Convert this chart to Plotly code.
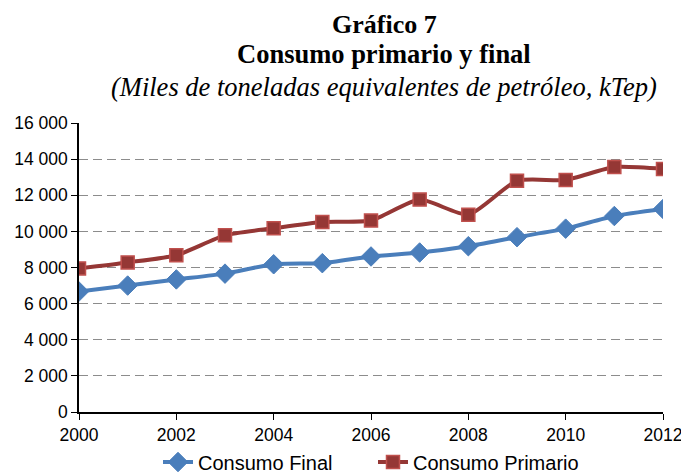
import plotly.graph_objects as go

# data (kTep)
years = list(range(2000, 2013))
consumo_final = [6670, 7000, 7340, 7660, 8180, 8240, 8610, 8830, 9180, 9680, 10150, 10850, 11240]
consumo_primario = [7950, 8280, 8680, 9780, 10170, 10520, 10600, 11760, 10920, 12800, 12850, 13560, 13460]

y_ticks = [0, 2000, 4000, 6000, 8000, 10000, 12000, 14000, 16000]
y_tick_labels = ["0", "2 000", "4 000", "6 000", "8 000", "10 000", "12 000", "14 000", "16 000"]
x_ticks = list(range(2000, 2013, 2))

fig = go.Figure()

fig.add_trace(go.Scatter(
    x=years, y=consumo_final, name="Consumo Final",
    mode="lines+markers", line=dict(color="#4A7EBB", width=4, shape="spline", smoothing=0.6),
    marker=dict(symbol="diamond", size=15, color="#4A7EBB", line=dict(color="#4A7EBB", width=1)),
))
fig.add_trace(go.Scatter(
    x=years, y=consumo_primario, name="Consumo Primario",
    mode="lines+markers", line=dict(color="#953735", width=4, shape="spline", smoothing=0.6),
    marker=dict(symbol="square", size=13, color="#953735", line=dict(color="#C0504D", width=1.5)),
))

# the page body adds an 8px margin, so everything is laid out 8px up/left
OFF = 8
FW, FH = 689 - OFF, 473 - OFF
# plot box in pixels (page coords minus offset): x 79..663, y 123..412
L, R, T, B = 79 - OFF, 663 - OFF, 123 - OFF, 412 - OFF
W, H = R - L, B - T

fig.update_layout(
    width=FW, height=FH,
    paper_bgcolor="white", plot_bgcolor="white",
    margin=dict(l=L, r=FW - R, t=T, b=FH - B, autoexpand=False),
    font=dict(family="Liberation Sans, Arial, sans-serif", size=17.5, color="black"),
    showlegend=True,
    legend=dict(orientation="h", x=(158 - OFF - L) / W, xanchor="left",
                y=(B - (462 - OFF)) / H, yanchor="middle",
                font=dict(size=20), entrywidth=170, tracegroupgap=0),
)

fig.update_xaxes(
    range=[2000, 2012], tickvals=x_ticks, showgrid=False, automargin=False,
    showline=True, linecolor="black", linewidth=1.5,
    ticks="outside", ticklen=6, tickcolor="black", zeroline=False,
)
fig.update_yaxes(
    range=[0, 16000], tickvals=y_ticks, ticktext=y_tick_labels, automargin=False,
    showgrid=True, gridcolor="#8C8C8C", griddash="9px,5px", gridwidth=1.3,
    showline=True, linecolor="black", linewidth=1.5,
    ticks="outside", ticklen=6, tickcolor="black", zeroline=False,
)

serif = "Liberation Serif, Times New Roman, serif"
cx = (384 - OFF - L) / W
fig.add_annotation(text="<b>Gráfico 7</b>", x=cx, y=(B - (25 - OFF)) / H,
                   xref="paper", yref="paper", showarrow=False, yanchor="middle",
                   font=dict(family=serif, size=26, color="black"))
fig.add_annotation(text="<b>Consumo primario y final</b>", x=cx, y=(B - (54 - OFF)) / H,
                   xref="paper", yref="paper", showarrow=False, yanchor="middle",
                   font=dict(family=serif, size=26.5, color="black"))
fig.add_annotation(text="<i>(Miles de toneladas equivalentes de petróleo, kTep)</i>",
                   x=cx, y=(B - (87 - OFF)) / H,
                   xref="paper", yref="paper", showarrow=False, yanchor="middle",
                   font=dict(family=serif, size=26.5, color="black"))

fig.write_html("out.html")
